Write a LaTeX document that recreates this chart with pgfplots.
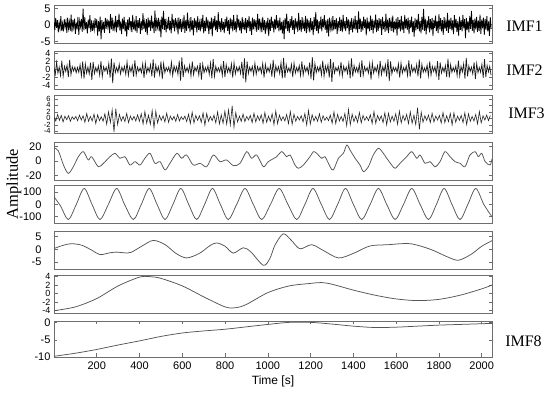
\documentclass[border=0pt]{standalone}
\usepackage{pgfplots}
\usepackage{pgfplotstable}
\pgfplotsset{compat=1.18}
\usepackage{fontspec}
\setmainfont{Liberation Serif}
\newfontfamily\sansfont{Liberation Sans}
\definecolor{framegray}{RGB}{110,110,110}
\definecolor{curvegray}{RGB}{85,85,85}

\pgfplotstableread[header=false]{
0.8
-1.6
2.1
-0.9
1.4
-2.3
0.6
-1.2
2.6
-1.8
0.4
-2.0
1.7
-0.7
1.1
-2.4
2.2
-1.1
0.9
-1.9
3.1
-2.2
1.5
-0.8
1.9
-2.7
0.7
-1.4
2.4
-3.0
1.2
-0.6
1.8
-2.1
4.9
-1.7
2.3
-1.3
0.8
-2.6
1.6
-1.0
2.9
-2.2
1.3
-1.8
0.5
-1.5
2.0
-0.9
1.7
-3.3
1.1
-2.0
2.5
-4.4
1.4
-1.6
0.9
-2.4
2.1
-1.2
1.8
-0.7
1.3
-2.5
3.2
-1.4
2.2
-1.9
0.6
-1.1
2.7
-2.3
1.5
-0.8
3.4
-1.7
1.0
-2.8
1.9
-1.3
2.4
-2.0
0.8
-3.6
1.6
-1.5
2.3
-0.9
1.2
-2.2
3.0
-1.4
0.7
-1.9
2.6
-2.4
1.4
-1.0
2.0
-2.7
1.1
-1.6
3.5
-1.2
0.9
-2.1
1.7
-3.1
2.2
-0.8
1.5
-1.8
2.8
-1.1
1.0
-2.5
4.4
-1.9
1.3
-0.7
2.1
-2.0
1.6
-3.8
2.5
-1.3
4.2
-1.5
1.8
-2.3
0.9
-1.2
2.4
-1.7
1.2
-2.6
3.3
-1.0
1.6
-2.0
2.0
-0.6
1.1
-2.9
2.2
-1.4
1.7
-2.1
0.8
-1.3
2.9
-2.4
1.4
-1.8
3.7
-1.1
0.9
-2.2
2.3
-1.6
1.3
-3.2
2.0
-0.9
1.5
-2.3
2.6
-1.5
0.7
-2.0
1.9
-1.2
3.0
-2.6
1.2
-1.9
2.4
-1.1
1.6
-2.8
1.0
-1.4
2.2
-3.5
1.8
-0.8
2.7
-1.7
1.3
-2.1
3.8
-1.3
1.1
-2.2
2.0
-1.6
0.9
-2.5
1.7
-1.0
2.5
-1.8
1.4
-2.9
2.1
-1.1
1.6
-2.0
2.9
-1.5
1.0
-2.3
3.1
-0.9
1.8
-1.7
1.2
-2.6
2.3
-1.3
0.8
-1.6
2.0
-2.4
1.5
-1.0
2.6
-1.9
1.1
-3.0
2.2
-1.4
1.7
-0.8
1.3
-2.1
3.3
-1.5
1.9
-1.2
0.9
-2.2
2.4
-1.6
1.4
-2.7
1.0
-1.1
2.1
-3.4
1.6
-1.8
2.5
-0.9
1.2
-2.3
1.8
-1.4
2.9
-1.0
1.3
-2.0
2.2
-1.7
0.9
-2.6
1.5
-4.3
2.0
-1.2
3.4
-1.9
1.1
-2.4
1.7
-0.9
2.6
-1.5
1.4
-2.8
2.0
-1.1
1.2
-2.1
3.6
-1.6
1.5
-2.2
2.3
-1.3
0.8
-1.9
2.7
-2.5
1.9
-1.0
1.3
-2.3
2.1
-1.6
1.0
-3.1
2.4
-1.4
3.9
-1.8
1.6
-2.6
1.1
-1.2
2.5
-2.0
1.7
-0.8
2.9
-1.5
1.3
-2.4
1.8
-3.5
2.2
-1.1
1.0
-2.0
2.6
-1.7
1.4
-1.3
2.0
-2.7
1.2
-0.9
2.4
-1.8
1.6
-2.2
3.0
-1.4
1.1
-1.9
2.3
-1.0
1.7
-2.9
1.3
-1.5
2.1
-2.3
0.9
-1.2
2.7
-1.6
1.4
-2.4
4.1
-1.3
1.9
-2.1
1.2
-1.7
2.5
-0.9
1.6
-3.2
2.2
-1.4
1.0
-2.0
2.8
-1.5
1.8
-2.6
1.3
-1.1
3.1
-2.2
1.5
-1.8
2.0
-1.0
1.7
-3.0
2.4
-1.3
1.1
-2.1
3.4
-1.7
1.6
-2.5
2.1
-0.8
1.3
-1.9
2.8
-2.3
1.0
-1.4
1.9
-3.3
2.3
-1.2
1.5
-2.0
2.7
-1.6
1.2
-2.4
3.0
-1.1
1.8
-1.5
2.2
-2.8
1.4
-1.0
2.5
-2.2
1.1
-3.6
2.0
-1.7
1.6
-1.3
3.3
-2.0
1.2
-2.6
2.4
-1.5
4.8
-1.8
1.9
-2.9
1.3
-1.1
2.6
-2.3
1.7
-1.6
2.1
-3.4
1.5
-1.0
2.8
-1.9
1.2
-2.5
3.2
-1.4
2.0
-2.0
1.4
-3.0
2.3
-1.2
1.0
-1.8
3.6
-2.4
1.6
-1.3
2.2
-1.7
1.3
-2.8
2.9
-1.0
1.8
-2.2
1.1
-3.3
2.5
-1.5
1.4
-2.0
3.0
-1.1
1.7
-4.0
2.1
-1.6
1.2
-2.3
2.7
-1.2
4.2
-1.8
1.5
-2.6
1.9
-1.4
2.4
-2.1
1.3
-1.9
3.1
-2.7
1.6
-1.1
2.2
-3.0
1.8
-1.5
2.6
-2.0
1.0
-3.4
2.3
-1.2
}\imfone

\pgfplotstableread[header=false]{
0.4
-1.2
1.8
-0.9
0.6
-1.5
2.2
-1.7
0.8
-0.5
1.1
-1.9
2.4
-1.3
0.7
-0.4
0.6
-0.8
0.5
-0.7
1.2
-1.6
2.0
-2.3
1.4
-0.9
0.6
-1.1
1.7
-2.6
1.9
-1.0
0.5
-0.6
0.9
-1.4
2.1
-1.8
0.7
-0.4
0.6
-0.9
1.5
-2.0
2.7
-3.4
1.8
-0.8
0.5
-0.7
1.3
-1.1
0.6
-0.5
0.8
-1.2
1.9
-1.5
0.7
-0.6
1.0
-1.8
2.3
-1.4
0.6
-0.5
0.4
-0.8
1.4
-2.1
1.6
-0.9
0.5
-0.6
1.2
-1.7
2.5
-2.0
1.1
-0.6
0.7
-1.3
2.0
-2.4
1.5
-0.8
0.5
-0.4
0.6
-1.0
1.8
-1.5
0.9
-0.5
0.7
-1.2
2.2
-2.8
3.0
-1.9
0.9
-0.6
0.5
-0.7
1.1
-1.6
2.0
-1.3
0.6
-0.4
0.8
-1.4
1.7
-2.5
1.4
-0.8
0.5
-0.5
0.9
-1.2
1.6
-2.2
2.6
-1.7
0.8
-0.6
0.4
-0.6
1.0
-1.5
2.1
-1.9
1.2
-0.7
0.5
-0.9
1.4
-2.0
1.7
-1.1
0.6
-0.5
0.7
-1.0
1.9
-2.3
2.8
-3.2
2.0
-1.0
0.6
-0.5
0.8
-1.3
1.6
-1.2
0.7
-0.4
0.6
-0.9
1.5
-2.0
1.3
-0.7
0.5
-0.6
1.1
-1.8
2.4
-1.6
0.9
-0.5
0.7
-1.0
1.7
-2.2
2.9
-2.1
1.2
-0.6
0.4
-0.7
1.3
-1.9
1.6
-0.9
0.5
-0.6
1.0
-1.5
2.0
-1.4
0.8
-0.5
0.6
-1.1
1.8
-2.4
3.1
-2.7
1.5
-0.8
0.6
-0.5
0.9
-1.4
2.2
-1.7
0.9
-0.6
1.2
-2.0
2.6
-3.1
1.9
-0.9
0.5
-0.4
0.7
-1.2
1.9
-1.6
0.8
-0.5
0.6
-1.0
1.6
-2.2
2.8
-1.8
1.0
-0.6
0.5
-0.8
1.3
-1.9
2.3
-1.5
0.7
-0.4
0.5
-0.9
1.5
-2.5
1.7
-0.9
0.6
-0.5
1.0
-1.6
2.1
-1.3
0.7
-0.6
1.2
-1.8
2.6
-2.9
2.0
-1.1
0.6
-0.4
0.5
-0.8
1.4
-2.0
1.6
-0.9
0.5
-0.5
0.9
-1.5
2.3
-1.8
1.0
-0.6
0.5
-0.7
1.2
-1.7
2.5
-2.2
1.3
-0.7
0.4
-0.6
1.1
-1.6
2.0
-1.4
0.8
-0.5
0.7
-1.3
2.1
-2.6
1.8
-0.9
0.5
-0.6
1.0
-1.9
2.7
-2.0
1.2
-0.7
0.5
-0.5
0.9
-1.5
2.2
-1.6
0.8
-0.6
1.4
-2.3
2.9
-1.7
0.9
-0.5
0.6
-1.1
1.8
-2.4
1.5
-0.8
0.5
-0.7
1.3
-2.1
2.6
-1.9
1.0
-0.6
0.8
-1.4
}\imftwo

\pgfplotstableread[header=false]{
0.3
-0.8
1.2
-0.6
0.9
-1.1
0.7
-0.4
0.8
-0.9
0.5
-0.3
0.6
-0.7
1.0
-0.5
0.8
-1.2
1.5
-0.9
0.6
-0.8
1.3
-1.6
1.1
-0.7
0.5
-0.9
1.4
-1.8
2.0
-1.3
2.6
-4.2
3.0
-1.9
1.2
-0.8
0.6
-1.0
1.5
-1.3
0.7
-0.5
0.6
-0.8
1.1
-0.9
1.4
-1.7
2.1
-1.5
1.0
-1.8
2.4
-2.9
2.2
-1.4
0.9
-0.6
0.8
-1.1
1.6
-1.2
0.7
-0.5
0.6
-0.9
1.2
-0.8
0.5
-0.4
0.7
-1.0
1.3
-1.6
1.9
-1.4
0.9
-0.6
0.8
-1.2
1.7
-2.1
1.5
-0.9
0.6
-0.7
1.0
-1.4
2.0
-1.7
1.1
-1.5
2.2
-1.8
2.6
-2.0
3.9
-2.7
1.8
-1.1
0.7
-0.9
1.3
-1.0
0.6
-0.5
0.9
-1.3
1.6
-1.1
0.8
-0.6
1.1
-1.5
1.8
-1.2
0.7
-0.9
1.4
-1.9
2.3
-1.6
1.0
-0.7
0.5
-0.8
1.2
-1.6
2.1
-1.8
1.3
-0.9
0.6
-0.5
0.8
-1.1
1.5
-2.0
2.4
-1.7
1.1
-0.8
0.6
-0.9
1.4
-1.2
0.8
-0.6
0.4
-0.7
1.0
-1.5
2.0
-1.6
1.2
-0.8
0.6
-1.0
1.5
-2.2
2.7
-1.9
1.3
-1.0
0.7
-1.2
1.8
-1.4
0.9
-0.6
0.5
-0.7
1.1
-1.6
2.1
-1.5
0.9
-0.6
0.8
-1.3
1.7
-2.0
1.6
-1.1
0.7
-0.9
1.4
-1.8
2.2
-1.4
0.9
-0.7
1.2
-1.6
2.0
-1.5
1.0
-1.9
3.3
-3.4
1.9
-1.2
0.8
-0.6
1.0
-1.3
1.6
-1.1
0.7
-0.5
0.9
-1.4
1.8
-1.3
0.8
-1.0
1.5
-2.0
1.7
-1.2
0.7
-0.6
0.9
-1.3
1.7
-1.9
1.4
-0.9
0.6
-0.8
1.2
-1.7
2.1
-1.4
0.8
-0.5
1.0
-0.7
0.9
}\imfthree

\pgfplotsset{imf/.style={
  scale only axis, width=438pt, height=38pt,
  xmin=0, xmax=2048, xtick=\empty,
  axis line style={framegray, line width=0.9pt},
  tick style={framegray, line width=0.7pt},
  major tick length=3.5pt, tick align=inside,
  /pgf/number format/assume math mode=true,
  /pgf/number format/1000 sep={},
  tick label style={font=\sansfont\fontsize{11}{11}\selectfont},
  anchor=north west, clip=true,
}}

\begin{document}
\begin{tikzpicture}
\useasboundingbox (0,0) rectangle (550pt,-395pt);

% IMF1
\begin{axis}[imf, at={(54pt,-5pt)}, ymin=-5.5, ymax=6, ytick={-5,0,5}]
\addplot[black, line width=0.8pt] table[x expr=\coordindex*4, y index=0] \imfone;
\end{axis}

% IMF2
\begin{axis}[imf, at={(54pt,-51.5pt)}, ymin=-5, ymax=4.5, ytick={-4,-2,0,2,4},
  yticklabel style={font=\sansfont\fontsize{9}{9}\selectfont}]
\addplot[black!90, line width=0.7pt] table[x expr=\coordindex*6.1, y index=0] \imftwo;
\end{axis}

% IMF3
\begin{axis}[imf, at={(54pt,-95pt)}, ymin=-4.5, ymax=7.2, ytick={-4,-2,0,2,4,6},
  yticklabel style={font=\sansfont\fontsize{7.5}{7.5}\selectfont, inner ysep=0pt}]
\addplot[black!85, line width=0.6pt] table[x expr=\coordindex*8.5, y index=0] \imfthree;
\end{axis}

% IMF4
\begin{axis}[imf, at={(54pt,-142pt)}, ymin=-26, ymax=26, ytick={-20,0,20},
  yticklabel style={xshift=-9pt}]
\addplot[curvegray, line width=0.75pt, smooth] coordinates {
(0,18)(20,14)(45,-6)(67,-16.9)(90,-8)(114,5.9)(137,12.8)(160,1.4)(176,5.9)
(207,-7.8)(231,-3.2)(262,5.9)(285,10.5)(309,3.7)(332,5.9)(355,-5.5)(379,-0.9)
(402,-5.5)(425,3.7)(449,10.5)(472,-3.2)(496,-0.9)(519,-12.3)(542,-3.2)(574,10.5)
(597,3.7)(620,8.2)(651,-5.5)(683,-3.2)(714,-7.8)(745,8.2)(776,-0.9)(807,1.4)
(839,-6.4)(870,-3.2)(901,12.8)(924,3.7)(948,8.2)(979,-7.8)(1002,-0.9)(1041,5.9)
(1065,12.8)(1088,5.9)(1104,8.2)(1127,-5.5)(1143,-10)(1166,-5.5)(1197,5.9)
(1213,12.8)(1228,10.5)(1252,3.7)(1267,5.9)(1291,-7.8)(1306,-12.3)(1330,3.7)
(1353,10.5)(1369,21.9)(1384,15.1)(1408,3.7)(1431,-5.5)(1447,-14.6)(1470,-7.8)
(1493,8.2)(1517,17.4)(1540,10.5)(1556,3.7)(1579,-5.5)(1595,-10)(1618,-3.2)
(1649,5.9)(1673,12.8)(1696,3.7)(1712,8.2)(1735,-3.2)(1758,-0.9)(1782,-7.8)
(1805,-0.9)(1828,12.8)(1852,5.9)(1875,-0.9)(1899,-3.2)(1922,-7.8)(1945,8.2)
(1969,12.8)(1984,5.9)(2000,10.5)(2016,-0.9)(2039,-5.5)(2048,3)
};
\end{axis}

% IMF5
\begin{axis}[imf, at={(54pt,-185pt)}, ymin=-150, ymax=158, ytick={-100,0,100},
  yticklabel style={xshift=-9pt}]
\addplot[curvegray, line width=0.75pt, smooth] coordinates {
(0,62)(30,-10)(67,-122)(104,0)(141,130)(178,0)(215,-122)(254,0)(293,130)
(330,0)(371,-122)(408,0)(445,130)(482,0)(519,-122)(556,0)(593,130)(630,0)
(667,-122)(704,0)(741,130)(778,0)(815,-122)(854,0)(893,130)(932,0)(971,-122)
(1012,0)(1053,130)(1094,0)(1135,-122)(1173,0)(1211,130)(1250,0)(1288,-122)
(1326,0)(1363,130)(1400,0)(1439,-122)(1478,0)(1517,130)(1556,0)(1595,-122)
(1634,0)(1673,130)(1712,0)(1751,-122)(1788,0)(1824,130)(1861,0)(1898,-122)
(1935,0)(1972,130)(2010,0)(2048,-100)
};
\end{axis}

% IMF6
\begin{axis}[imf, at={(54pt,-231pt)}, ymin=-7.75, ymax=7.2, ytick={-5,0,5},
  yticklabel style={xshift=-9pt}]
\addplot[curvegray, line width=0.75pt, smooth] coordinates {
(0,0.3)(40,1.5)(80,2.2)(130,1.6)(180,-0.5)(215,-2.1)(260,-1.4)(293,-1.1)
(330,-1.4)(360,-1.2)(410,1.2)(464,3.5)(520,1.8)(570,-1.6)(620,-3.4)(680,-1.6)
(730,1.5)(761,2.5)(800,1.2)(838,-1.5)(885,0.6)(920,-1.0)(979,-6.3)(1010,-3.5)
(1033,1.6)(1072,6.1)(1110,3.5)(1150,0.2)(1205,1.8)(1260,-0.5)(1330,-3.4)
(1400,-1.6)(1477,1.3)(1560,1.8)(1665,2.2)(1760,0.0)(1840,-3.0)(1891,-4.3)
(1950,-2.0)(2000,1.2)(2048,3.4)
};
\end{axis}

% IMF7
\begin{axis}[imf, at={(54pt,-275pt)}, ymin=-4.65, ymax=4.4, ytick={-4,-2,0,2,4},
  yticklabel style={font=\sansfont\fontsize{9}{9}\selectfont}]
\addplot[curvegray, line width=0.75pt, smooth] coordinates {
(0,-4.1)(100,-3.2)(200,-1.2)(300,1.8)(400,3.9)(450,4.0)(500,3.6)(600,1.8)
(700,-0.8)(800,-3.2)(850,-3.4)(900,-2.6)(1000,0.2)(1100,1.8)(1200,2.4)
(1250,2.6)(1300,2.2)(1400,0.8)(1500,-0.4)(1600,-1.3)(1700,-1.7)(1800,-1.4)
(1900,-0.4)(2000,1.1)(2048,2.0)
};
\end{axis}

% IMF8
\begin{axis}[imf, at={(54pt,-321pt)}, height=36pt, ymin=-10, ymax=0.5,
  ytick={-10,-5,0}, xtick={200,400,...,2000},
  xticklabel style={yshift=-1.5pt}]
\addplot[curvegray, line width=0.75pt, smooth] coordinates {
(0,-9.8)(100,-8.9)(200,-7.8)(300,-6.5)(400,-5.3)(500,-4.0)(600,-3.0)
(700,-2.4)(800,-1.9)(900,-1.2)(1000,-0.5)(1100,0.1)(1200,0.1)(1300,-0.4)
(1400,-1.0)(1500,-1.4)(1600,-1.3)(1700,-1.0)(1800,-0.7)(1900,-0.5)(2048,-0.2)
};
\end{axis}

\node[font=\fontsize{16}{16}\selectfont] at (524.5pt,-26.5pt) {IMF1};
\node[font=\fontsize{16}{16}\selectfont] at (524.5pt,-70pt) {IMF2};
\node[font=\fontsize{16}{16}\selectfont] at (526.5pt,-113pt) {IMF3};
\node[font=\fontsize{16}{16}\selectfont] at (523.5pt,-341pt) {IMF8};
\node[font=\fontsize{16.5}{16.5}\selectfont, rotate=90] at (14pt,-184pt) {Amplitude};
\node[font=\sansfont\fontsize{12}{12}\selectfont] at (273pt,-381pt) {Time [s]};
\end{tikzpicture}
\end{document}
